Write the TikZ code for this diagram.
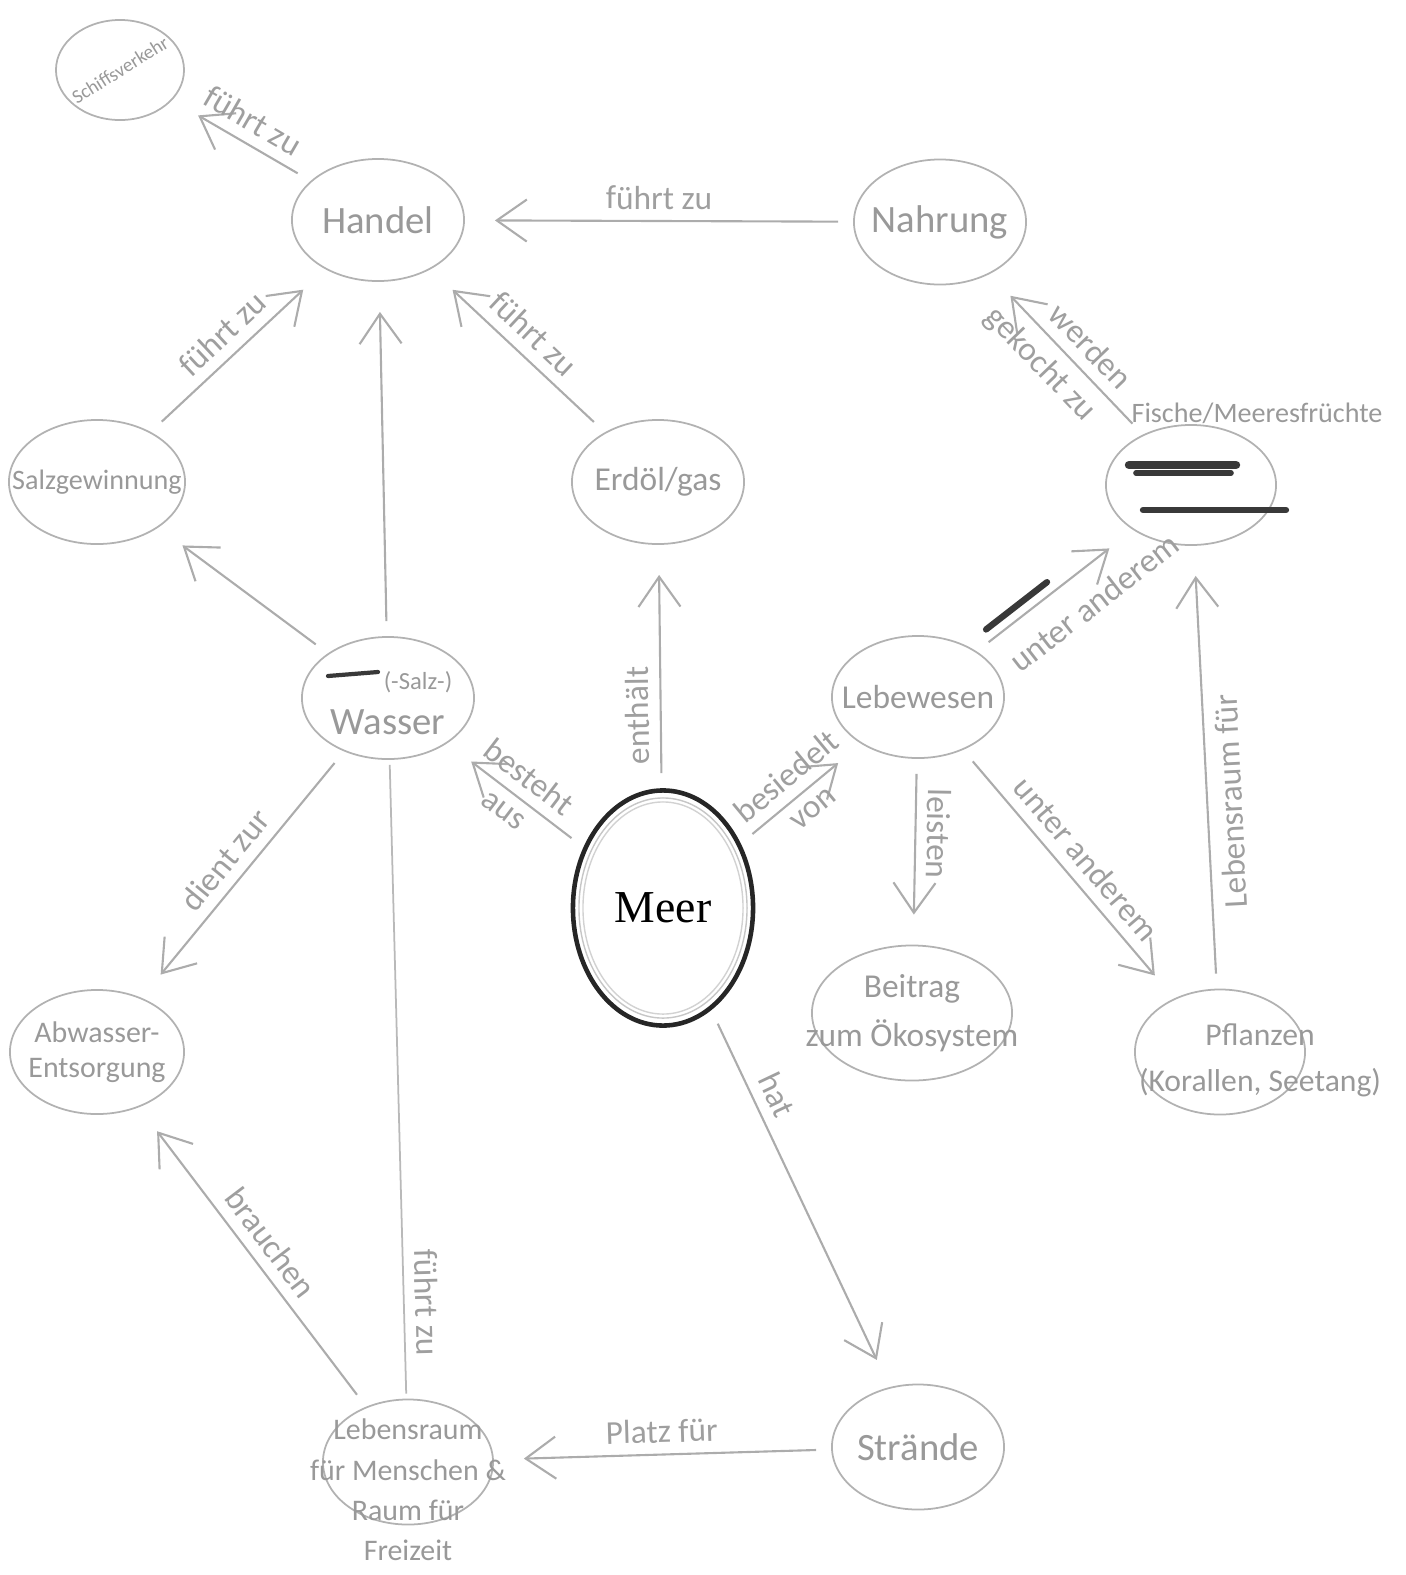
\documentclass[tikz,border=0pt]{standalone}
\usepackage{fontspec}
\setmainfont{Liberation Serif}
\newfontfamily\handfont{Carlito}
\usepackage{tikz}
\usetikzlibrary{shapes.geometric, arrows.meta, positioning}

\begin{document}
\begin{tikzpicture}[x=0.01cm, y=-0.01cm,
        concept/.style={ellipse, draw=gray!60, line width=0.5pt, minimum width=1.72cm, minimum height=1.22cm, inner sep=0pt},
        word/.style={text=gray!80, font=\handfont\fontsize{11}{13}\selectfont, align=center},
        sz/.style 2 args={font=\handfont\fontsize{#1}{#2}\selectfont},
        arr/.style={draw=gray!65, line width=0.6pt, -{Straight Barb[length=0.3cm, width=0.42cm]}, shorten >=0.3cm, shorten <=0.15cm},
        link/.style={draw=gray!55, line width=0.5pt, shorten >=0.05cm, shorten <=0.05cm},
        rel/.style={text=gray!75, font=\handfont\fontsize{9.5}{10}\selectfont, inner sep=3pt},
        scribble/.style={draw=gray!45!black, line width=2.4pt, line cap=round}]
        \useasboundingbox (0,0) rectangle (1405,1575);

        % Concepts
        \node[concept, minimum width=1.28cm, minimum height=1.0cm, label={[word, sz={5.5}{7}, rotate=32]center:Schiffsverkehr}] (sch) at (120,70) {};
        \node[concept, label={[word]center:Handel}] (han) at (378,220) {};
        \node[concept, minimum height=1.25cm, label={[word]center:Nahrung}] (nah) at (940,222) {};
        \node[concept, minimum width=1.76cm, minimum height=1.24cm, label={[word, sz={8}{10}]center:Salzgewinnung}] (sal) at (97,482) {};
        \node[concept, minimum height=1.24cm, label={[word, sz={9.5}{11}]center:Erdöl/gas}] (erd) at (658,482) {};
        \node[concept, minimum width=1.7cm, minimum height=1.2cm, label={[word, sz={8}{9}, xshift=0.66cm, yshift=-0.12cm]above:Fische/Meeresfrüchte}] (fis) at (1191,485) {};
        \node[concept, label={[word, yshift=-0.05cm]center:{\hspace{0.6cm}{\fontsize{7}{8}\selectfont(-Salz-)}\\Wasser}}] (was) at (388,698) {};
        \node[concept, label={[word, sz={9.5}{11}]center:Lebewesen}] (leb) at (918,697) {};
        \node[concept, draw=black!85, line width=1.3pt, minimum width=1.8cm, minimum height=2.35cm, label={[font=\fontsize{13}{15}\selectfont]center:Meer}] (mee) at (663,908) {};
        \node[concept, minimum width=1.74cm, minimum height=1.24cm, label={[word, sz={8.5}{10}]center:Abwasser-\\Entsorgung}] (abw) at (97,1052) {};
        \node[concept, minimum width=2.0cm, minimum height=1.35cm, label={[word, sz={9.5}{14}]center:Beitrag\\zum Ökosystem}] (bei) at (912,1013) {};
        \node[concept, minimum width=1.7cm, minimum height=1.25cm, label={[word, sz={9}{13}, xshift=0.4cm, yshift=-0.08cm]center:Pflanzen\\(Korallen, Seetang)}] (pfl) at (1220,1052) {};
        \node[concept, minimum width=1.7cm, minimum height=1.25cm, label={[word, sz={8.5}{11.5}, yshift=-0.28cm]center:Lebensraum\\für Menschen \&\\Raum für\\Freizeit}] (lbr) at (408,1462) {};
        \node[concept, minimum height=1.25cm, label={[word]center:Strände}] (str) at (918,1447) {};

        % Sketch lines round the sea
        \draw[gray!45] (mee.center) ellipse (0.84cm and 1.1cm);
        \draw[gray!35] (mee.center) ellipse (0.8cm and 1.06cm);

        % Crossed out words
        \draw[scribble] ([shift={(-62,-20)}]fis.center) -- ([shift={(45,-20)}]fis.center);
        \draw[scribble, line width=1.6pt] ([shift={(-55,-12)}]fis.center) -- ([shift={(40,-12)}]fis.center);
        \draw[scribble, line width=1.8pt] ([shift={(-48,25)}]fis.center) -- ([shift={(95,25)}]fis.center);
        \draw[scribble, line width=1.2pt] ([shift={(-60,-22)}]was.center) -- ([shift={(-10,-26)}]was.center);

        % Arrows around the trade node
        \draw[arr] (han) -- (sch) node[rel, midway, sloped, above] (hs) {führt zu};
        \draw[arr] (nah) -- (han) node[rel, midway, above, sloped] (nh) {führt zu};
        \draw[arr] (sal) -- (han) node[rel, midway, above, sloped] (sh) {führt zu};
        \draw[arr] (erd) -- (han) node[rel, midway, above, sloped] (eh) {führt zu};
        \draw[arr] (was) -- (han);
        \draw[arr] (was) -- (sal);

        % Fish and food
        \draw[arr] (fis) -- (nah) node[rel, pos=0.45, above, sloped] (fn1) {werden}
            node[rel, pos=0.55, below, sloped] (fn2) {gekocht zu};
        \draw[arr] (leb) -- (fis) node[rel, pos=0.62, below, sloped, yshift=-0.1cm] (lf) {unter anderem}
            node[rel, pos=0.3, above, sloped, minimum width=0.75cm] (lfx) {};
        \draw[scribble, line width=1.8pt] (lfx.west) -- (lfx.east);
        \draw[arr] (pfl) -- (fis) node[rel, pos=0.42, below, sloped, allow upside down] (pf) {Lebensraum für};

        % Out of the sea
        \draw[arr] (mee) -- (erd) node[rel, pos=0.3, above, sloped, allow upside down] (me) {enthält};
        \draw[arr] (mee) -- (was) node[rel, midway, above, sloped] (mw1) {besteht}
            node[rel, midway, below, sloped] (mw2) {aus};
        \draw[arr] (mee) -- (leb) node[rel, midway, above, sloped] (ml1) {besiedelt}
            node[rel, midway, below, sloped] (ml2) {von};
        \draw[arr] (mee) -- (str) node[rel, pos=0.25, above, sloped] (ms) {hat};

        % Living things
        \draw[arr] (leb) -- (bei) node[rel, pos=0.4, above, sloped, allow upside down] (lb) {leisten};
        \draw[arr] (leb) -- (pfl) node[rel, midway, above, sloped] (lp) {unter anderem};

        % Water and people
        \draw[arr] (was) -- (abw) node[rel, midway, above, sloped] (wa) {dient zur};
        \draw[arr] (lbr) -- (abw) node[rel, midway, above, sloped] (la) {brauchen};
        \draw[link] (lbr) -- (was) node[rel, pos=0.15, above, sloped] (lw) {führt zu};
        \draw[arr] (str) -- (lbr) node[rel, midway, above, sloped] (sl) {Platz für};

    \end{tikzpicture}
\end{document}
